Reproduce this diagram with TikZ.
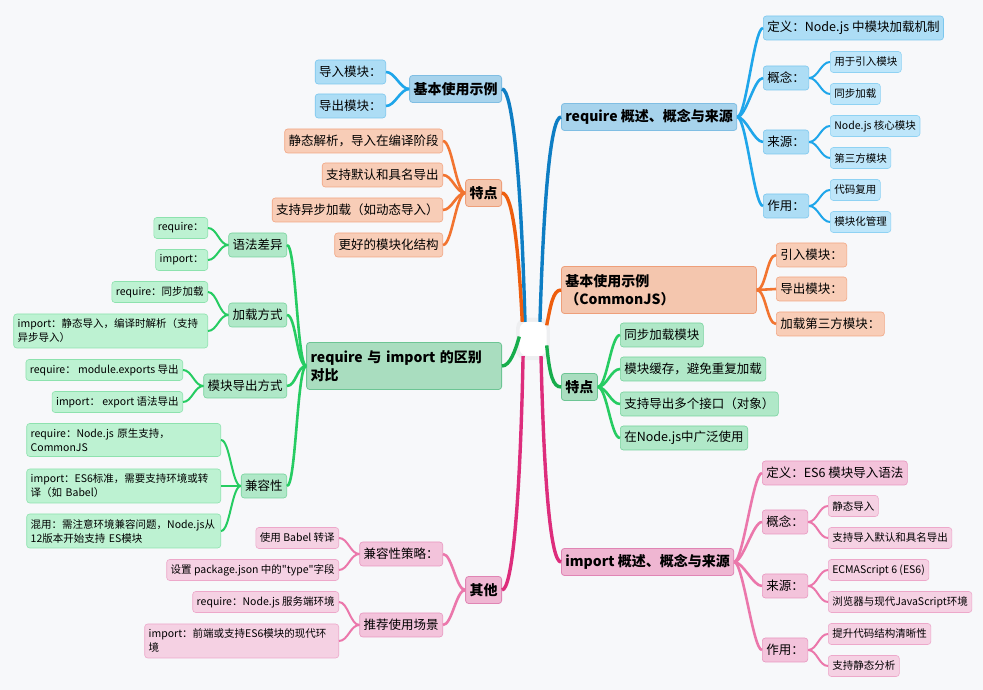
\documentclass[tikz,border=0pt]{standalone}
\usepackage{fontspec}
\setmainfont{Noto Sans CJK SC}[Ligatures=TeXOff]
\usetikzlibrary{shadows}
\definecolor{bgc}{HTML}{F7F8FA}
\definecolor{bedge}{HTML}{0E7EC4}
\definecolor{bsub}{HTML}{1FA6EA}
\definecolor{bmainf}{HTML}{A7D3EC}
\definecolor{bmaind}{HTML}{80BEE3}
\definecolor{bmidf}{HTML}{ADDDF5}
\definecolor{bmidd}{HTML}{7CC7EE}
\definecolor{bleaff}{HTML}{BEE6FA}
\definecolor{bleafd}{HTML}{8FD2F3}
\definecolor{oedge}{HTML}{EE5E0E}
\definecolor{osub}{HTML}{F27430}
\definecolor{omainf}{HTML}{F4C6AE}
\definecolor{omaind}{HTML}{EE9F7A}
\definecolor{omidf}{HTML}{F8CDB7}
\definecolor{omidd}{HTML}{F2A683}
\definecolor{gedge}{HTML}{17AD4C}
\definecolor{gsub}{HTML}{26CC62}
\definecolor{gmainf}{HTML}{A9DDBF}
\definecolor{gmaind}{HTML}{6DC594}
\definecolor{gmidf}{HTML}{B0E8C8}
\definecolor{gmidd}{HTML}{77D39D}
\definecolor{gleaff}{HTML}{BDF2D2}
\definecolor{gleafd}{HTML}{8DE2AE}
\definecolor{pedge}{HTML}{DD2D7C}
\definecolor{psub}{HTML}{EB77AB}
\definecolor{pmainf}{HTML}{EFB6D2}
\definecolor{pmaind}{HTML}{E085B4}
\definecolor{pmidf}{HTML}{F3C3DB}
\definecolor{pmidd}{HTML}{E897C0}
\definecolor{pleaff}{HTML}{F5D1E3}
\definecolor{pleafd}{HTML}{EDA8CA}

\begin{document}
\begin{tikzpicture}[x=1pt, y=1pt,
    every node/.style={rounded corners=3pt, inner xsep=4pt, inner ysep=0pt},
    main/.style={font=\fontsize{14}{18}\selectfont\bfseries, minimum height=27pt, line width=0.8pt},
    mid/.style={font=\fontsize{12.5}{15}\selectfont, minimum height=24pt, line width=0.6pt},
    leaf/.style={font=\fontsize{10.5}{14}\selectfont, minimum height=21pt, line width=0.6pt},
    bmain/.style={main, fill=bmainf, draw=bmaind},
    bmid/.style={mid, fill=bmidf, draw=bmidd},
    bleaf/.style={leaf, fill=bleaff, draw=bleafd},
    omain/.style={main, fill=omainf, draw=omaind},
    omid/.style={mid, fill=omidf, draw=omidd},
    gmain/.style={main, fill=gmainf, draw=gmaind},
    gmid/.style={mid, fill=gmidf, draw=gmidd},
    gleaf/.style={leaf, fill=gleaff, draw=gleafd},
    pmain/.style={main, fill=pmainf, draw=pmaind},
    pmid/.style={mid, fill=pmidf, draw=pmidd},
    pleaf/.style={leaf, fill=pleaff, draw=pleafd},
    mainedge/.style={line width=3.4pt},
    subedge/.style={line width=2.6pt},
    leafedge/.style={line width=2pt},
    rto/.style={to path={.. controls +(9,0) and +(-9,0) .. (\tikztotarget)}},
    lto/.style={to path={.. controls +(-9,0) and +(9,0) .. (\tikztotarget)}}]
  \fill [bgc] (0,0) rectangle (983,690);
  \useasboundingbox (0,0) rectangle (983,690);

  % centre
  \node [fill=white, rounded corners=8pt, minimum width=27pt, minimum height=34pt,
    drop shadow={opacity=0.07, shadow xshift=0pt, shadow yshift=0pt, shadow scale=1.25}] (root) at (533,351) {};

  % right: require
  \node [bmain, anchor=west] (r1) at (561,573) {require 概述、概念与来源};
  \node [bmid, anchor=west] (r1def) at (763,662) {定义：Node.js 中模块加载机制};
  \node [bmid, anchor=west] (r1con) at (763,612) {概念：};
  \node [bmid, anchor=west] (r1src) at (763,548) {来源：};
  \node [bmid, anchor=west] (r1use) at (763,484) {作用：};
  \node [bleaf, anchor=west] (r1con1) at (830,628) {用于引入模块};
  \node [bleaf, anchor=west] (r1con2) at (830,596) {同步加载};
  \node [bleaf, anchor=west] (r1src1) at (830,564) {Node.js 核心模块};
  \node [bleaf, anchor=west] (r1src2) at (830,532) {第三方模块};
  \node [bleaf, anchor=west] (r1use1) at (830,500) {代码复用};
  \node [bleaf, anchor=west] (r1use2) at (830,468) {模块化管理};

  % right: commonjs
  \node [omain, anchor=west, minimum height=47pt, text width=187pt, align=left] (r2) at (561,400) {基本使用示例\\（CommonJS）};
  \node [omid, anchor=west] (r2a) at (776,435) {引入模块：};
  \node [omid, anchor=west] (r2b) at (776,401) {导出模块：};
  \node [omid, anchor=west] (r2c) at (776,366) {加载第三方模块：};

  % right: features
  \node [gmain, anchor=west] (r3) at (561,303) {特点};
  \node [gmid, anchor=west] (r3a) at (620,355) {同步加载模块};
  \node [gmid, anchor=west] (r3b) at (620,321) {模块缓存，避免重复加载};
  \node [gmid, anchor=west] (r3c) at (620,286) {支持导出多个接口（对象）};
  \node [gmid, anchor=west] (r3d) at (620,252) {在Node.js中广泛使用};

  % right: import
  \node [pmain, anchor=west] (r4) at (561,128) {import 概述、概念与来源};
  \node [pmid, anchor=west] (r4def) at (762,217) {定义：ES6 模块导入语法};
  \node [pmid, anchor=west] (r4con) at (762,168) {概念：};
  \node [pmid, anchor=west] (r4src) at (762,104) {来源：};
  \node [pmid, anchor=west] (r4use) at (762,40) {作用：};
  \node [pleaf, anchor=west] (r4con1) at (828,184) {静态导入};
  \node [pleaf, anchor=west] (r4con2) at (828,152) {支持导入默认和具名导出};
  \node [pleaf, anchor=west] (r4src1) at (828,120) {ECMAScript 6 (ES6)};
  \node [pleaf, anchor=west] (r4src2) at (828,88) {浏览器与现代JavaScript环境};
  \node [pleaf, anchor=west] (r4use1) at (828,56) {提升代码结构清晰性};
  \node [pleaf, anchor=west] (r4use2) at (828,24) {支持静态分析};

  % left: es module usage
  \node [bmain, anchor=east] (l1) at (502,601) {基本使用示例};
  \node [bmid, anchor=east] (l1a) at (386,618) {导入模块：};
  \node [bmid, anchor=east] (l1b) at (386,584) {导出模块：};

  % left: features
  \node [omain, anchor=east] (l2) at (502,497) {特点};
  \node [omid, anchor=east] (l2a) at (443,549) {静态解析，导入在编译阶段};
  \node [omid, anchor=east] (l2b) at (443,515) {支持默认和具名导出};
  \node [omid, anchor=east] (l2c) at (443,480) {支持异步加载（如动态导入）};
  \node [omid, anchor=east] (l2d) at (443,445) {更好的模块化结构};

  % left: comparison
  \node [gmain, anchor=east, minimum height=47pt, text width=187pt, align=left] (l3) at (502,324) {require 与 import 的区别\\对比};
  \node [gmid, anchor=east] (l3a) at (287,445) {语法差异};
  \node [gmid, anchor=east] (l3b) at (287,375) {加载方式};
  \node [gmid, anchor=east] (l3c) at (287,304) {模块导出方式};
  \node [gmid, anchor=east] (l3d) at (287,204) {兼容性};
  \node [gleaf, anchor=east] (l3a1) at (208,462) {require：};
  \node [gleaf, anchor=east] (l3a2) at (208,430) {import：};
  \node [gleaf, anchor=east] (l3b1) at (208,398) {require：同步加载};
  \node [gleaf, anchor=east, minimum height=34pt, text width=186pt, align=left] (l3b2) at (208,359) {import：静态导入，编译时解析（支持\\异步导入）};
  \node [gleaf, anchor=east] (l3c1) at (183,320) {require： module.exports 导出};
  \node [gleaf, anchor=east] (l3c2) at (183,288) {import： export 语法导出};
  \node [gleaf, anchor=east, minimum height=33pt, text width=186pt, align=left] (l3d1) at (221,250) {require：Node.js 原生支持，\\CommonJS};
  \node [gleaf, anchor=east, minimum height=34pt, text width=186pt, align=left] (l3d2) at (221,204) {import：ES6标准，需要支持环境或转\\译（如 Babel）};
  \node [gleaf, anchor=east, minimum height=34pt, text width=186pt, align=left] (l3d3) at (221,159) {混用：需注意环境兼容问题，Node.js从\\12版本开始支持 ES模块};

  % left: others
  \node [pmain, anchor=east] (l4) at (502,100) {其他};
  \node [pmid, anchor=east] (l4a) at (443,136) {兼容性策略：};
  \node [pmid, anchor=east] (l4b) at (443,65) {推荐使用场景};
  \node [pleaf, anchor=east] (l4a1) at (339,152) {使用 Babel 转译};
  \node [pleaf, anchor=east] (l4a2) at (339,120) {设置 package.json 中的"type"字段};
  \node [pleaf, anchor=east] (l4b1) at (339,88) {require：Node.js 服务端环境};
  \node [pleaf, anchor=east, minimum height=34pt, text width=186pt, align=left] (l4b2) at (339,49) {import：前端或支持ES6模块的现代环\\境};

  % main branches
  \draw [mainedge, bedge] (root.115) .. controls +(-4,150) and +(10,0) .. (l1.east);
  \draw [mainedge, bedge] (root.68) .. controls +(4,130) and +(-10,0) .. (r1.west);
  \draw [mainedge, oedge] (root.122) .. controls +(-4,80) and +(10,0) .. (l2.east);
  \draw [mainedge, oedge] (root.45) .. controls +(4,20) and +(-8,0) .. (r2.west);
  \draw [mainedge, gedge] (root.170) .. controls +(-4,-14) and +(8,0) .. (l3.east);
  \draw [mainedge, gedge] (root.-25) .. controls +(3,-30) and +(-8,0) .. (r3.west);
  \draw [mainedge, pedge] (root.-120) .. controls +(-3,-150) and +(10,0) .. (l4.east);
  \draw [mainedge, pedge] (root.-65) .. controls +(3,-130) and +(-10,0) .. (r4.west);

  % right sub branches
  \draw [subedge, bsub] (r1.east) to [rto] (r1def.west);
  \draw [subedge, bsub] (r1.east) to [rto] (r1con.west);
  \draw [subedge, bsub] (r1.east) to [rto] (r1src.west);
  \draw [subedge, bsub] (r1.east) to [rto] (r1use.west);
  \draw [leafedge, bsub] (r1con.east) to [rto] (r1con1.west);
  \draw [leafedge, bsub] (r1con.east) to [rto] (r1con2.west);
  \draw [leafedge, bsub] (r1src.east) to [rto] (r1src1.west);
  \draw [leafedge, bsub] (r1src.east) to [rto] (r1src2.west);
  \draw [leafedge, bsub] (r1use.east) to [rto] (r1use1.west);
  \draw [leafedge, bsub] (r1use.east) to [rto] (r1use2.west);
  \draw [subedge, osub] (r2.east) to [rto] (r2a.west);
  \draw [subedge, osub] (r2.east) to [rto] (r2b.west);
  \draw [subedge, osub] (r2.east) to [rto] (r2c.west);
  \draw [subedge, gsub] (r3.east) to [rto] (r3a.west);
  \draw [subedge, gsub] (r3.east) to [rto] (r3b.west);
  \draw [subedge, gsub] (r3.east) to [rto] (r3c.west);
  \draw [subedge, gsub] (r3.east) to [rto] (r3d.west);
  \draw [subedge, psub] (r4.east) to [rto] (r4def.west);
  \draw [subedge, psub] (r4.east) to [rto] (r4con.west);
  \draw [subedge, psub] (r4.east) to [rto] (r4src.west);
  \draw [subedge, psub] (r4.east) to [rto] (r4use.west);
  \draw [leafedge, psub] (r4con.east) to [rto] (r4con1.west);
  \draw [leafedge, psub] (r4con.east) to [rto] (r4con2.west);
  \draw [leafedge, psub] (r4src.east) to [rto] (r4src1.west);
  \draw [leafedge, psub] (r4src.east) to [rto] (r4src2.west);
  \draw [leafedge, psub] (r4use.east) to [rto] (r4use1.west);
  \draw [leafedge, psub] (r4use.east) to [rto] (r4use2.west);

  % left sub branches
  \draw [subedge, bsub] (l1.west) to [lto] (l1a.east);
  \draw [subedge, bsub] (l1.west) to [lto] (l1b.east);
  \draw [subedge, osub] (l2.west) to [lto] (l2a.east);
  \draw [subedge, osub] (l2.west) to [lto] (l2b.east);
  \draw [subedge, osub] (l2.west) to [lto] (l2c.east);
  \draw [subedge, osub] (l2.west) to [lto] (l2d.east);
  \draw [subedge, gsub] (l3.west) to [lto] (l3a.east);
  \draw [subedge, gsub] (l3.west) to [lto] (l3b.east);
  \draw [subedge, gsub] (l3.west) to [lto] (l3c.east);
  \draw [subedge, gsub] (l3.west) to [lto] (l3d.east);
  \draw [leafedge, gsub] (l3a.west) to [lto] (l3a1.east);
  \draw [leafedge, gsub] (l3a.west) to [lto] (l3a2.east);
  \draw [leafedge, gsub] (l3b.west) to [lto] (l3b1.east);
  \draw [leafedge, gsub] (l3b.west) to [lto] (l3b2.east);
  \draw [leafedge, gsub] (l3c.west) to [lto] (l3c1.east);
  \draw [leafedge, gsub] (l3c.west) to [lto] (l3c2.east);
  \draw [leafedge, gsub] (l3d.west) to [lto] (l3d1.east);
  \draw [leafedge, gsub] (l3d.west) to [lto] (l3d2.east);
  \draw [leafedge, gsub] (l3d.west) to [lto] (l3d3.east);
  \draw [subedge, psub] (l4.west) to [lto] (l4a.east);
  \draw [subedge, psub] (l4.west) to [lto] (l4b.east);
  \draw [leafedge, psub] (l4a.west) to [lto] (l4a1.east);
  \draw [leafedge, psub] (l4a.west) to [lto] (l4a2.east);
  \draw [leafedge, psub] (l4b.west) to [lto] (l4b1.east);
  \draw [leafedge, psub] (l4b.west) to [lto] (l4b2.east);
\end{tikzpicture}
\end{document}
